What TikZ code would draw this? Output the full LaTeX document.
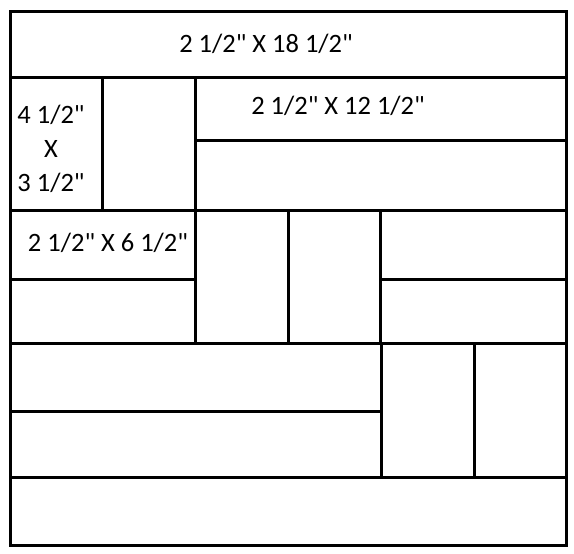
\documentclass[tikz,border=0pt]{standalone}
\usepackage{fontspec}
\setmainfont{Carlito}[Ligatures=TeXOff]
\usetikzlibrary{positioning}

\begin{document}
\begin{tikzpicture}[x=1pt, y=-1pt, line width=3pt,
        size/.style={inner sep=0pt, font=\fontsize{26.5}{34}\selectfont, align=center}]
                \useasboundingbox (0,0) rectangle (574,554);
                % outer border and full rows
                \draw (10,11) rectangle (566,545);
                \foreach \y in {77,210,343,477}
                        \draw (10,\y) -- (566,\y);
                % second row
                \draw (102,77) -- (102,210);
                \draw (195,77) -- (195,343);
                \draw (195,140) -- (566,140);
                % third row
                \draw (288,210) -- (288,343);
                \draw (380,210) -- (380,343);
                \draw (10,279) -- (195,279);
                \draw (380,279) -- (566,279);
                % fourth row
                \draw (381,343) -- (381,477);
                \draw (474,343) -- (474,477);
                \draw (10,411) -- (381,411);
                % labels
                \node[size] (top)    at (266,44)  {2 1/2" X 18 1/2"};
                \node[size] (long)   at (338,106) {2 1/2" X 12 1/2"};
                \node[size] (square) at (51,149)  {4 1/2"\\X\\3 1/2"};
                \node[size] (short)  at (108,243) {2 1/2" X 6 1/2"};
        \end{tikzpicture}
\end{document}
